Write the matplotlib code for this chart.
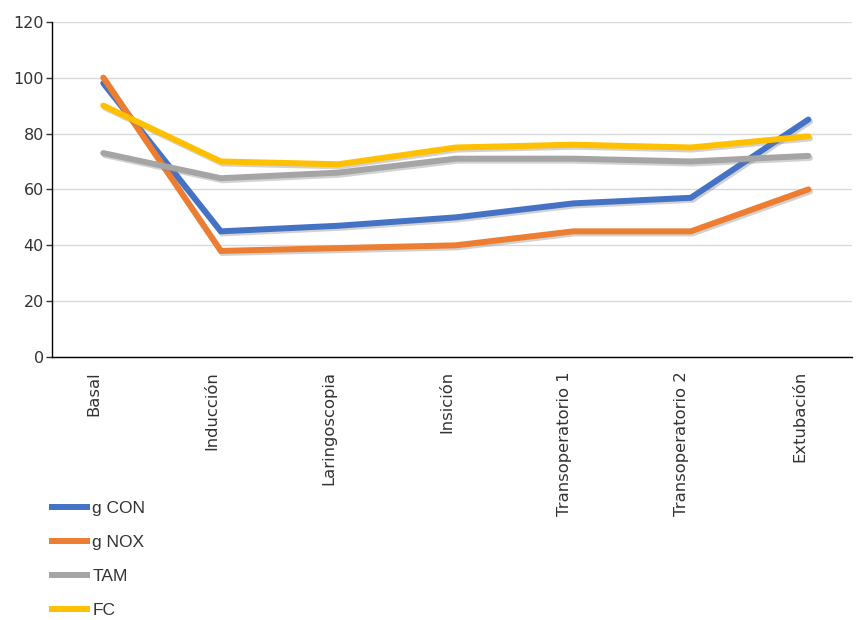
import matplotlib
matplotlib.use("Agg")
import matplotlib.pyplot as plt
import matplotlib.patheffects as pe
import matplotlib.transforms as mtransforms
from matplotlib.lines import Line2D
import numpy as np

categories = ['Basal', 'Inducción', 'Laringoscopia', 'Insición',
              'Transoperatorio 1', 'Transoperatorio 2', 'Extubación']
g_con = [98, 45, 47, 50, 55, 57, 85]
g_nox = [100, 38, 39, 40, 45, 45, 60]
tam = [73, 64, 66, 71, 71, 70, 72]
fc = [90, 70, 69, 75, 76, 75, 79]

series = [('g CON', g_con, '#4472C4'),
          ('g NOX', g_nox, '#ED7D31'),
          ('TAM', tam, '#A5A5A5'),
          ('FC', fc, '#FFC000')]

fig = plt.figure(figsize=(8.57, 6.2), dpi=100)
ax = fig.add_axes([0.061, 0.424, 0.933, 0.541])

x = np.arange(len(categories))
shadow = [pe.SimpleLineShadow(offset=(1.2, -1.5), shadow_color='#808080', alpha=0.35),
          pe.Normal()]
handles = []
for name, vals, color in series:
    ax.plot(x, vals, color=color, lw=4.3, solid_joinstyle='miter',
            solid_capstyle='round', path_effects=shadow, zorder=3)
    handles.append(Line2D([], [], color=color, lw=4.3, solid_capstyle='butt', label=name))

ax.set_ylim(0, 120)
ax.set_xlim(-0.434, 6.37)
ax.set_yticks(range(0, 121, 20))
ax.yaxis.grid(True, color='#d9d9d9', lw=1)
ax.set_axisbelow(True)

for side in ['top', 'right']:
    ax.spines[side].set_visible(False)
for side in ['left', 'bottom']:
    ax.spines[side].set_color('black')
    ax.spines[side].set_linewidth(1)

ax.tick_params(axis='y', length=4, width=1, labelsize=11.5, colors='#333333', pad=2)
ax.tick_params(axis='x', length=0, pad=10)
ax.set_xticks(x)
ax.set_xticklabels(categories, rotation=90, fontsize=11.8, color='#333333', va='top')
shift = mtransforms.ScaledTranslation(-9 / 100, 0, fig.dpi_scale_trans)
for lbl in ax.get_xticklabels():
    lbl.set_transform(lbl.get_transform() + shift)

leg = fig.legend(handles=handles, loc='upper left', bbox_to_anchor=(0.039, 0.217),
                 frameon=False, handlelength=2.35, handletextpad=0.15, labelspacing=1.08,
                 prop={'family': 'Liberation Sans', 'size': 12.5})
for txt in leg.get_texts():
    txt.set_color('#333333')

fig.savefig('out.png', dpi=100, facecolor='white')
